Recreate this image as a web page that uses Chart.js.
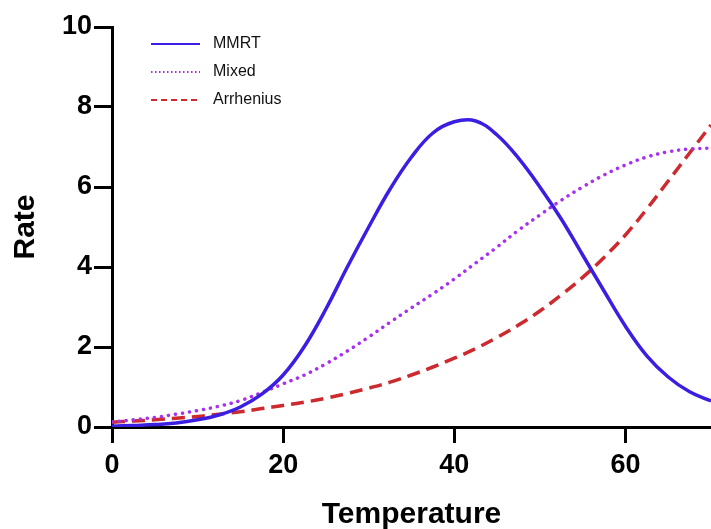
<!DOCTYPE html>
<html>
<head>
<meta charset="utf-8">
<script src="https://cdn.jsdelivr.net/npm/chart.js@4/dist/chart.umd.min.js"></script>
<style>
  html, body { margin: 0; padding: 0; background: #fff; }
  #wrap { width: 711px; height: 529px; }
</style>
</head>
<body>
<div id="wrap"><canvas id="chart-rate" width="711" height="529"></canvas></div>
<script>
// --- data ---
const temps = [0, 2.5, 5, 7.5, 10, 12.5, 15, 17.5, 20, 22.5, 25, 27.5, 30, 32.5, 35,
  37.5, 40, 42.5, 45, 47.5, 50, 52.5, 55, 57.5, 60, 62.5, 65, 67.5, 70];
const mmrt = [0.02, 0.04, 0.06, 0.1, 0.18, 0.3, 0.5, 0.82, 1.3, 2.02, 2.95, 4.0, 5.0, 5.95, 6.75,
  7.35, 7.63, 7.65, 7.3, 6.72, 6.0, 5.2, 4.3, 3.4, 2.52, 1.78, 1.25, 0.88, 0.65];
const mixed = [0.13, 0.18, 0.24, 0.32, 0.41, 0.52, 0.66, 0.86, 1.08, 1.3, 1.58, 1.9, 2.25, 2.62, 2.98,
  3.33, 3.7, 4.1, 4.5, 4.92, 5.3, 5.67, 6.0, 6.3, 6.55, 6.75, 6.88, 6.95, 6.97];
const arrhenius = [0.12, 0.15, 0.18, 0.22, 0.26, 0.32, 0.38, 0.46, 0.54, 0.62, 0.72, 0.84, 0.97, 1.12, 1.3,
  1.5, 1.72, 1.96, 2.24, 2.55, 2.9, 3.3, 3.74, 4.24, 4.8, 5.45, 6.15, 6.85, 7.55];
const xTicks = [0, 20, 40, 60];
const yTicks = [0, 2, 4, 6, 8, 10];
const seriesNames = ['MMRT', 'Mixed', 'Arrhenius'];

const toPoints = (ys) => temps.map((t, i) => ({ x: t, y: ys[i] }));

// legend drawn by hand, top left, like the original
const legendPlugin = {
  id: 'cornerLegend',
  afterDraw(chart) {
    const ctx = chart.ctx;
    ctx.save();
    chart.data.datasets.forEach((ds, i) => {
      const y = 44 + i * 28;
      ctx.beginPath();
      ctx.strokeStyle = ds.borderColor;
      ctx.lineWidth = 2;
      ctx.lineCap = 'butt';
      ctx.setLineDash(ds.legendDash || []);
      ctx.moveTo(151, y);
      ctx.lineTo(200, y);
      ctx.stroke();
      ctx.setLineDash([]);
      ctx.fillStyle = '#111';
      ctx.font = '16px "Liberation Sans", Arial, sans-serif';
      ctx.textBaseline = 'middle';
      ctx.textAlign = 'left';
      ctx.fillText(ds.label, 213, y);
    });
    ctx.restore();
  }
};

const tickFont = { family: '"Liberation Sans", Arial, sans-serif', size: 27, weight: 'bold' };
const titleFont = { family: '"Liberation Sans", Arial, sans-serif', size: 30, weight: 'bold' };

new Chart(document.getElementById('chart-rate').getContext('2d'), {
  type: 'line',
  data: {
    datasets: [
      {
        label: seriesNames[0],
        data: toPoints(mmrt),
        borderColor: '#3a1fe3',
        borderWidth: 3.5,
        legendDash: [],
        pointRadius: 0,
        tension: 0.4
      },
      {
        label: seriesNames[1],
        data: toPoints(mixed),
        borderColor: '#a830f0',
        borderWidth: 3.5,
        borderDash: [0.1, 7],
        borderCapStyle: 'round',
        legendDash: [1.5, 2.5],
        pointRadius: 0,
        tension: 0.4
      },
      {
        label: seriesNames[2],
        data: toPoints(arrhenius),
        borderColor: '#cc2a2e',
        borderWidth: 3.5,
        borderDash: [13, 7],
        legendDash: [6, 4],
        pointRadius: 0,
        tension: 0.4
      }
    ]
  },
  options: {
    responsive: false,
    animation: false,
    layout: { padding: { top: 27, right: 0, left: 0, bottom: 0 } },
    plugins: {
      legend: { display: false },
      tooltip: { enabled: false }
    },
    scales: {
      x: {
        type: 'linear',
        min: 0,
        max: 70,
        afterBuildTicks: (s) => { s.ticks = xTicks.map(v => ({ value: v })); },
        afterFit: (s) => { s.height = 102; },
        border: { display: true, color: '#000', width: 3 },
        grid: { drawOnChartArea: false, drawTicks: true, tickLength: 16, tickColor: '#000', lineWidth: 3 },
        ticks: { color: '#000', font: tickFont, padding: 6, maxRotation: 0 },
        title: { display: true, text: 'Temperature', color: '#000', font: titleFont, padding: { top: 0, bottom: -4 } }
      },
      y: {
        type: 'linear',
        min: 0,
        max: 10,
        afterBuildTicks: (s) => { s.ticks = yTicks.map(v => ({ value: v })); },
        afterFit: (s) => { s.width = 112; },
        border: { display: true, color: '#000', width: 3 },
        grid: { drawOnChartArea: false, drawTicks: true, tickLength: 18, tickColor: '#000', lineWidth: 3 },
        ticks: { color: '#000', font: tickFont, padding: 2 },
        title: { display: true, text: 'Rate', color: '#000', font: titleFont, padding: { top: 8, bottom: 0 } }
      }
    }
  },
  plugins: [legendPlugin]
});
</script>
</body>
</html>
